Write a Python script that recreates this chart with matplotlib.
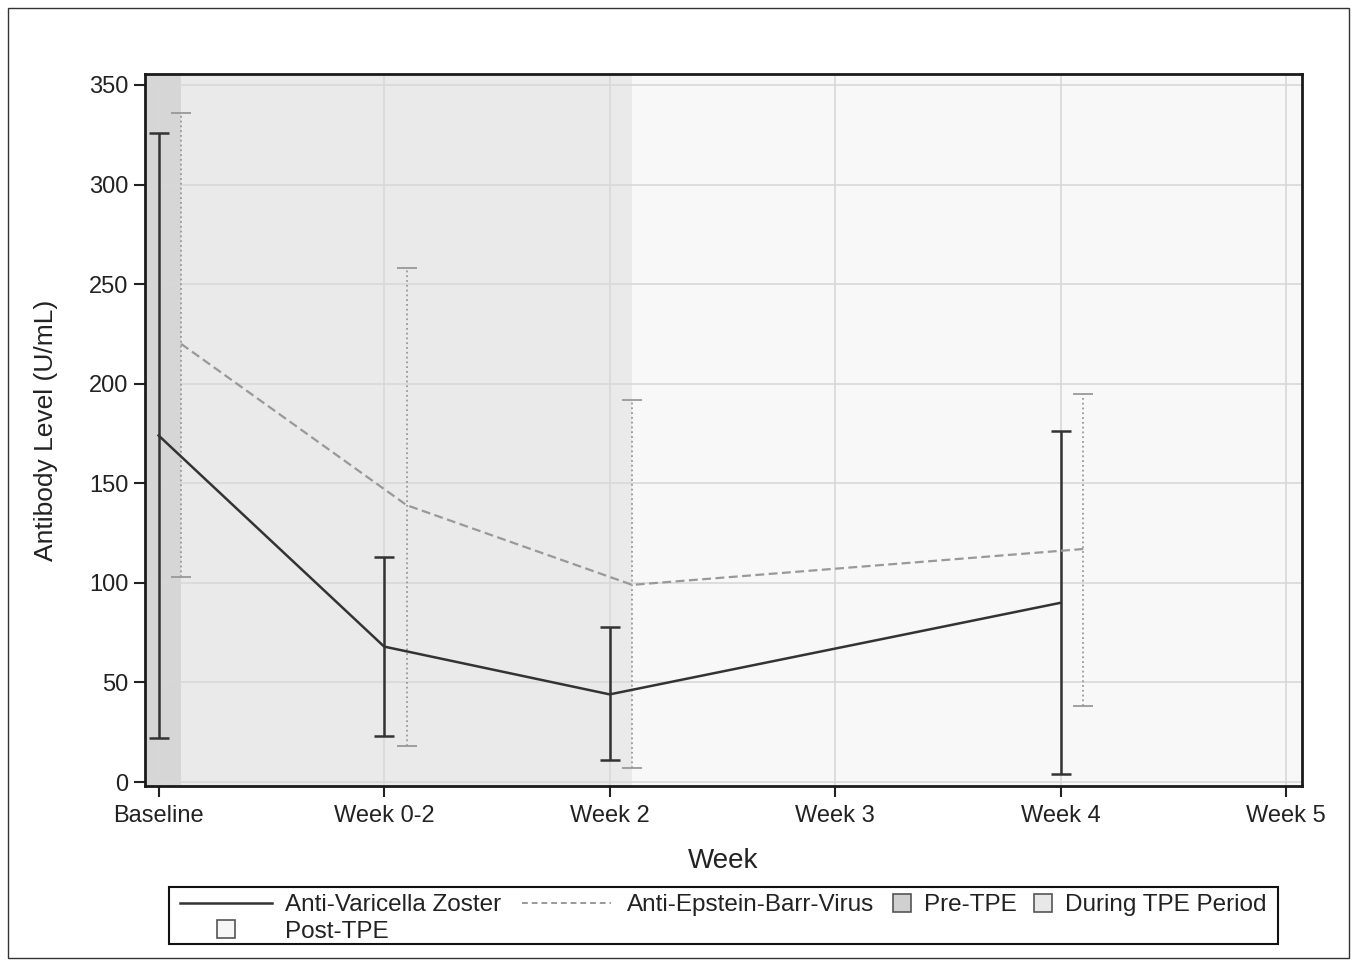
import numpy as np
import matplotlib.pyplot as plt
from matplotlib.patches import Rectangle
from matplotlib.lines import Line2D
from matplotlib.legend_handler import HandlerPatch

plt.rcParams['font.family'] = ['Liberation Sans', 'DejaVu Sans']

# datos
semanas = ["Baseline", "Week 0-2", "Week 2", "Week 3", "Week 4", "Week 5"]
posVzv = [0, 1, 2, 4]
mediaVzv = [174, 68, 44, 90]
altoVzv = [326, 113, 78, 176]
bajoVzv = [22, 23, 11, 4]

posEbv = [0.1, 1.1, 2.1, 4.1]
mediaEbv = [220, 139, 99, 117]
altoEbv = [336, 258, 192, 195]
bajoEbv = [103, 18, 7, 38]

# periodos (inicio, fin) en unidades del eje x
periodos = {"Pre-TPE": (-0.06, 0.1), "During TPE Period": (0.1, 2.1), "Post-TPE": (2.1, 5.07)}
colPeriodos = {"Pre-TPE": "#d6d6d6", "During TPE Period": "#eaeaea", "Post-TPE": "#f8f8f8"}

W, H = 1357, 965
fig = plt.figure(figsize=(W / 100, H / 100), dpi=100)
ax = fig.add_axes([0.1069, 0.1855, 0.8526, 0.7378])

for nombre, (a, b) in periodos.items():
    ax.axvspan(a, b, color=colPeriodos[nombre], zorder=0, lw=0)

ax.grid(True, color="#d8d8d8", lw=1.2, zorder=1)
ax.set_axisbelow(True)

def barras(pos, media, alto, bajo, color, ls, lwErr):
    yerr = [np.array(media) - np.array(bajo), np.array(alto) - np.array(media)]
    eb = ax.errorbar(pos, media, yerr=yerr, fmt="none", ecolor=color, elinewidth=lwErr,
                     capsize=7, capthick=lwErr, zorder=3)
    eb.lines[2][0].set_linestyle(ls)

barras(posVzv, mediaVzv, altoVzv, bajoVzv, "#333333", "-", 1.8)
barras(posEbv, mediaEbv, altoEbv, bajoEbv, "#999999", ":", 1.3)
ax.plot(posVzv, mediaVzv, color="#333333", lw=1.8, zorder=4)
ax.plot(posEbv, mediaEbv, color="#999999", lw=1.6, ls=(0, (4, 2)), zorder=4)

ax.set_xlim(-0.06, 5.07)
ax.set_ylim(-2, 355.5)
ax.set_xticks(range(len(semanas)))
ax.set_xticklabels(semanas)
ax.set_yticks(np.arange(0, 351, 50))
ax.tick_params(axis="both", labelsize=17, length=8, width=1.5, color="#222222", labelcolor="#222222")
ax.tick_params(axis="y", pad=4)
ax.tick_params(axis="x", pad=6)
for s in ax.spines.values():
    s.set_linewidth(2)
    s.set_color("#1a1a1a")
ax.set_xlabel("Week", fontsize=20, labelpad=15, color="#222222")
ax.set_ylabel("Antibody Level (U/mL)", fontsize=19, labelpad=22, color="#222222")

def cuadroCentro(legend, orig_handle, xdescent, ydescent, width, height, fontsize):
    lado = 18 * 72 / 100
    return Rectangle(((width - lado) / 2 - xdescent, -ydescent + (height - lado) / 2), lado, lado)

hVzv = Line2D([], [], color="#333333", lw=1.8)
hEbv = Line2D([], [], color="#999999", lw=1.4, ls=(0, (3, 2)))
hPre = Rectangle((0, 0), 1, 1, facecolor="#d0d0d0", edgecolor="#555555", lw=1.2)
hDur = Rectangle((0, 0), 1, 1, facecolor="#e8e8e8", edgecolor="#555555", lw=1.2)
hPost = Rectangle((0, 0), 1, 1, facecolor="#f6f6f6", edgecolor="#555555", lw=1.2)
mapa = {hPre: HandlerPatch(patch_func=cuadroCentro),
        hDur: HandlerPatch(patch_func=cuadroCentro),
        hPost: HandlerPatch(patch_func=cuadroCentro)}

comun = dict(fontsize=17.5, labelspacing=0.2, borderpad=0, borderaxespad=0, frameon=False,
             handler_map=mapa, labelcolor="#222222", loc="upper left")
marcoTop, marcoAbajo, marcoIzq = 887, 944, 169
topLeg = 1 - 894 / H
leyendas = [
    fig.legend([hVzv, hPost], ["Anti-Varicella Zoster", "Post-TPE"], handlelength=3.8,
               handletextpad=0.53, **comun),
    fig.legend([hEbv], ["Anti-Epstein-Barr-Virus"], handlelength=3.65, handletextpad=0.65, **comun),
    fig.legend([hPre, hDur], ["Pre-TPE", "During TPE Period"], ncol=2, handlelength=0.8,
               handletextpad=0.5, columnspacing=0.7, **comun),
]
huecos = [11, 21, 18]

fig.canvas.draw()
r = fig.canvas.get_renderer()
x = marcoIzq
for leg, hueco in zip(leyendas, huecos):
    x += hueco
    leg.set_bbox_to_anchor((x / W, topLeg), transform=fig.transFigure)
    x += leg.get_window_extent(r).width
marco = Rectangle((marcoIzq / W, 1 - marcoAbajo / H), (x + 11 - marcoIzq) / W, (marcoAbajo - marcoTop) / H,
                  transform=fig.transFigure, fill=False, edgecolor="#111111", lw=1.5)
fig.patches.append(marco)

fig.patches.append(Rectangle((8 / W, 1 - 958 / H), 1341 / W, 950 / H,
                             transform=fig.transFigure, fill=False, edgecolor="#333333", lw=1))

fig.savefig("out.png", dpi=100)
